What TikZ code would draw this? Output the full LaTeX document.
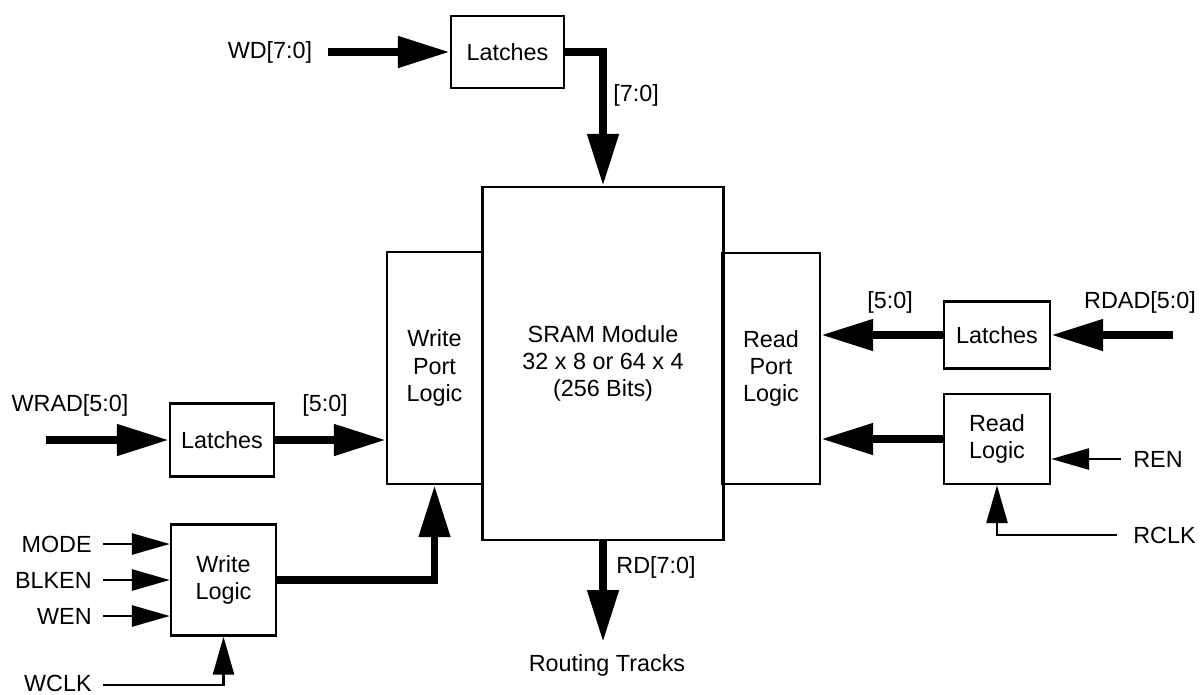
\documentclass[tikz,border=0pt]{standalone}
\usepackage{fontspec}
\setmainfont{Liberation Sans}
\usetikzlibrary{positioning}
\usetikzlibrary{arrows.meta}

\begin{document}
\begin{tikzpicture}[x=0.02cm, y=-0.02cm,
					font=\fontsize{13.3}{15.5}\selectfont,
					box/.style={draw, line width=1.4pt, align=center, inner sep=0pt},
					bus/.style={line width=4.5pt, -{Triangle[length=1.04cm, width=0.6cm]}},
					wire/.style={line width=1.6pt, -{Triangle[length=0.76cm, width=0.42cm]}},
					sig/.style={inner sep=0pt}]
					\useasboundingbox (0,0) rectangle (1200,694);

					%Nodes
					\node[box, minimum width=2.26cm, minimum height=1.44cm] (latchwd) at (507.5,52) {Latches};
					\node[box, minimum width=4.82cm, minimum height=7.06cm] (sram) at (603,363.5) {SRAM Module\\32 x 8 or 64 x 4\\(256 Bits)};
					\node[box, minimum width=1.9cm, minimum height=4.64cm] (wport) at (434.5,368) {Write\\Port\\Logic};
					\node[box, minimum width=1.96cm, minimum height=4.62cm] (rport) at (771,368.5) {Read\\Port\\Logic};
					\node[box, minimum width=2.08cm, minimum height=1.46cm] (latchwr) at (222,440) {Latches};
					\node[box, minimum width=2.1cm, minimum height=2.22cm] (wlogic) at (223.5,580) {Write\\Logic};
					\node[box, minimum width=2.12cm, minimum height=1.34cm] (latchrd) at (997,335) {Latches};
					\node[box, minimum width=2.12cm, minimum height=1.8cm] (rlogic) at (997,439) {Read\\Logic};

					%Signal names
					\node[sig] (wd) at (270,52) {WD[7:0]};
					\node[sig] (wdbus) at (636,95) {[7:0]};
					\node[sig] (wrad) at (70,405) {WRAD[5:0]};
					\node[sig] (wrbus) at (325,405) {[5:0]};
					\node[sig, anchor=east] (mode) at (92,544) {MODE};
					\node[sig, anchor=east] (blken) at (92,580) {BLKEN};
					\node[sig, anchor=east] (wen) at (92,616) {WEN};
					\node[sig, anchor=east] (wclk) at (92,683) {WCLK};
					\node[sig] (rdad) at (1140,302) {RDAD[5:0]};
					\node[sig] (rdbus) at (890,302) {[5:0]};
					\node[sig, anchor=west] (ren) at (1133,459) {REN};
					\node[sig, anchor=west] (rclk) at (1133,535) {RCLK};
					\node[sig] (rd) at (656,567) {RD[7:0]};
					\node[sig] (tracks) at (607,665) {Routing Tracks};

					\coordinate (wdin) at (328,52);
					\coordinate (wrin) at (46,440);
					\coordinate (modein) at (103,544);
					\coordinate (blkenin) at (103,580);
					\coordinate (wenin) at (103,616);
					\coordinate (wclkin) at (103,685);
					\coordinate (rdin) at (1173,335);
					\coordinate (renin) at (1121,459);
					\coordinate (rclkin) at (1117,535);
					\coordinate (rdout) at (603,642);

					%Lines
					\draw[bus] (wdin) -- (latchwd);
					\draw[bus] (latchwd.east) -| (sram.north);
					\draw[bus] (wrin) -- (latchwr);
					\draw[bus] (latchwr.east) -- (latchwr.east -| wport.west);
					\draw[bus] (wlogic.east) -| (wport.south);
					\draw[bus] (sram.south) -- (rdout);
					\draw[bus] (rdin) -- (latchrd);
					\draw[bus] (latchrd.west) -- (latchrd.west -| rport.east);
					\draw[bus] (rlogic.west) -- (rlogic.west -| rport.east);

					\draw[wire] (modein) -- (modein -| wlogic.west);
					\draw[wire] (blkenin) -- (blkenin -| wlogic.west);
					\draw[wire] (wenin) -- (wenin -| wlogic.west);
					\draw[wire] (wclkin) -| (wlogic.south);
					\draw[wire] (renin) -- (renin -| rlogic.east);
					\draw[wire] (rclkin) -| (rlogic.south);

				\end{tikzpicture}
\end{document}
